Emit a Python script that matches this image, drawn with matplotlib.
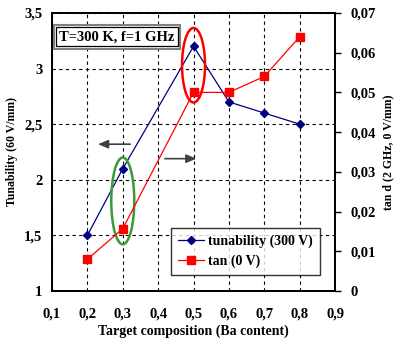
import matplotlib
matplotlib.use("Agg")
import matplotlib.pyplot as plt
from matplotlib.patches import Ellipse
from matplotlib.ticker import FuncFormatter

plt.rcParams['font.family'] = ['Liberation Serif', 'DejaVu Serif']
plt.rcParams['font.weight'] = 'bold'

# data
ba = [0.2, 0.3, 0.5, 0.6, 0.7, 0.8]
tunability = [1.5, 2.1, 3.2, 2.7, 2.6, 2.5]
tan_loss = [0.008, 0.0157, 0.05, 0.05, 0.054, 0.064]
x_ticks = [0.1, 0.2, 0.3, 0.4, 0.5, 0.6, 0.7, 0.8, 0.9]
left_ticks = [1, 1.5, 2, 2.5, 3, 3.5]
right_ticks = [0, 0.01, 0.02, 0.03, 0.04, 0.05, 0.06, 0.07]


def comma(v, pos):
    s = ('%g' % round(v, 4))
    return s.replace('.', ',')


fig = plt.figure(figsize=(3.97, 3.40), dpi=100)
ax = fig.add_axes([0.131, 0.144, 0.713, 0.818])
ax2 = ax.twinx()

ax.plot(ba, tunability, color='#000080', lw=0.9, marker='D', ms=4.5,
        label='tunability (300 V)')
ax2.plot(ba, tan_loss, color='red', lw=0.9, marker='s', ms=6,
         label='tan (0 V)')

ax.set_xlim(0.1, 0.9)
ax.set_ylim(1, 3.5)
ax2.set_ylim(0, 0.07)
ax.set_xticks(x_ticks)
ax.set_yticks(left_ticks)
ax2.set_yticks(right_ticks)
for a in (ax, ax2):
    a.xaxis.set_major_formatter(FuncFormatter(comma))
    a.yaxis.set_major_formatter(FuncFormatter(comma))
    for s in a.spines.values():
        s.set_linewidth(1.3)

ax.grid(True, color='black', ls=(0, (3, 3)), lw=0.8)
ax.tick_params(axis='both', direction='in', length=0, labelsize=10.5)
ax.tick_params(axis='x', pad=12)
ax.tick_params(axis='y', pad=7)
ax2.tick_params(axis='y', direction='out', length=4, width=1, labelsize=10.5, pad=7)

ax.set_xlabel('Target composition (Ba content)', fontsize=10, fontweight='bold', labelpad=3)
ax.set_ylabel('Tunability (60 V/mm)', fontsize=8.5, fontweight='bold', labelpad=4)
ax2.set_ylabel('tan d (2 GHz, 0 V/mm)', fontsize=8.5, fontweight='bold', labelpad=5)

# annotations
ax.text(0.23, 0.914, 'T=300 K, f=1 GHz', transform=ax.transAxes, ha='center', va='center',
        fontsize=10.5, fontweight='bold', color='none',
        bbox=dict(boxstyle='square,pad=0.38', fc='white', ec='#808080', lw=1.5))
ax.text(0.23, 0.914, 'T=300 K, f=1 GHz', transform=ax.transAxes, ha='center', va='center',
        fontsize=10.5, fontweight='bold',
        bbox=dict(boxstyle='square,pad=0.2', fc='white', ec='black', lw=0.9))
ax.add_patch(Ellipse((0.5, 3.03), 0.065, 0.67, fill=False, ec='red', lw=1.8, zorder=5))
ax.add_patch(Ellipse((0.3, 1.81), 0.065, 0.78, fill=False, ec='#3a9a3a', lw=1.8, zorder=5))
ax.annotate('', xy=(0.222, 2.32), xytext=(0.329, 2.32),
            arrowprops=dict(arrowstyle='-|>,head_length=0.6,head_width=0.25',
                            color='#404040', lw=1.2))
ax.annotate('', xy=(0.516, 2.19), xytext=(0.411, 2.19),
            arrowprops=dict(arrowstyle='-|>,head_length=0.6,head_width=0.25',
                            color='#404040', lw=1.2))

h1, l1 = ax.get_legend_handles_labels()
h2, l2 = ax2.get_legend_handles_labels()
leg = ax2.legend(h1 + h2, l1 + l2, loc='lower right', bbox_to_anchor=(0.947, 0.058),
                 fontsize=10, frameon=True, fancybox=False, handlelength=1.9,
                 handletextpad=0.3, borderpad=0.5, borderaxespad=0, labelspacing=0.45,
                 markerscale=0.85)
leg.get_frame().set_edgecolor('black')
leg.get_frame().set_linewidth(1)

fig.savefig('out.png', dpi=100)
